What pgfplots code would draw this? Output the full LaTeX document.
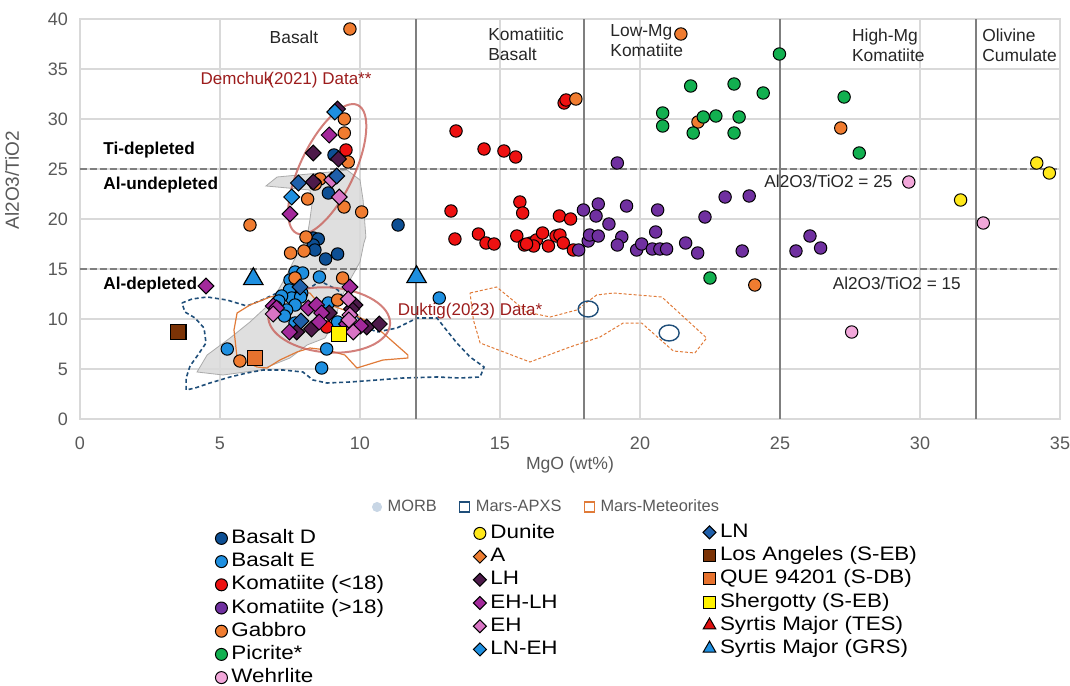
\documentclass[border=0pt]{standalone}
\usepackage{fontspec}
\setmainfont{Liberation Sans}
\newfontfamily\legfont[FakeStretch=1.15]{Liberation Sans}
\usepackage{pgfplots}
\pgfplotsset{compat=1.18}
\usetikzlibrary{shapes.geometric}

\definecolor{basD}{HTML}{0D4F94}
\definecolor{basE}{HTML}{1E8FE0}
\definecolor{komL}{HTML}{EE1111}
\definecolor{komH}{HTML}{7030A0}
\definecolor{gab}{HTML}{F07C30}
\definecolor{pic}{HTML}{12B050}
\definecolor{weh}{HTML}{F2A7DA}
\definecolor{dun}{HTML}{FFE81A}
\definecolor{aCol}{HTML}{ED7D31}
\definecolor{LHc}{HTML}{4D1A4A}
\definecolor{EHLHc}{HTML}{A3299B}
\definecolor{EHc}{HTML}{D874C4}
\definecolor{LNEHc}{HTML}{1E8FE0}
\definecolor{LNc}{HTML}{1F5FAA}
\definecolor{LAc}{HTML}{7B3306}
\definecolor{QUEc}{HTML}{E6722E}
\definecolor{SHEc}{HTML}{FFF200}
\definecolor{TESc}{HTML}{E01010}
\definecolor{GRSc}{HTML}{1E8FE0}
\definecolor{morbF}{HTML}{D9D9D9}
\definecolor{morbE}{HTML}{ABABAB}
\definecolor{morbL}{HTML}{C8D6E5}
\definecolor{apxs}{HTML}{1F4E79}
\definecolor{met}{HTML}{E07B39}
\definecolor{ellR}{HTML}{C8605A}
\definecolor{txtR}{HTML}{9C1C1C}
\definecolor{vline}{HTML}{7F7F7F}
\definecolor{gridc}{HTML}{D9D9D9}
\definecolor{tickc}{HTML}{595959}
\definecolor{annc}{HTML}{262626}

\pgfplotsset{
 circ/.style={only marks, forget plot, mark=*, mark size=3.1pt, mark options={draw=black, fill=#1, line width=0.5pt}},
 diam/.style={only marks, forget plot, mark=square*, mark size=2.8pt, mark options={draw=black, fill=#1, line width=0.5pt, rotate=45}},
 sq/.style={only marks, forget plot, mark=square*, mark size=3.9pt, mark options={draw=black, fill=#1, line width=0.6pt}},
 tri/.style={only marks, forget plot, mark=triangle*, mark size=5.6pt, mark options={draw=black, fill=#1, line width=0.6pt}},
 lcirc/.style={only marks, mark=*, mark size=3pt, mark options={draw=black, fill=#1, line width=0.5pt}},
 ldiam/.style={only marks, mark=square*, mark size=2.3pt, mark options={draw=black, fill=#1, line width=0.5pt, rotate=45}},
 lsq/.style={only marks, mark=square*, mark size=3pt, mark options={draw=black, fill=#1, line width=0.5pt}},
 ltri/.style={only marks, mark=triangle*, mark size=3.6pt, mark options={draw=black, fill=#1, line width=0.5pt}},
 colleg/.style={hide axis, scale only axis, width=490pt, height=200pt, at={(0,0)}, anchor=south west,
   xmin=0, xmax=1, ymin=0, ymax=1, legend cell align=left,
   legend image code/.code={\draw[##1] plot coordinates {(0pt,0pt)};},
   legend style={at={#1}, anchor=north west, draw=none, fill=none, inner sep=0pt, row sep=1.6pt,
     font=\legfont\fontsize{9.75}{11}\selectfont,
     nodes={inner sep=0.5pt, text height=7pt, text depth=2pt},
     /tikz/every odd column/.append style={column sep=1.5pt}}},
}

\begin{document}
\begin{tikzpicture}
\path[use as bounding box] (-40pt,-133pt) rectangle (495pt,209.5pt);

\begin{axis}[
 scale only axis, width=490pt, height=200pt, at={(0,0)}, anchor=south west,
 xmin=0, xmax=35, ymin=0, ymax=40,
 xtick={0,5,...,35}, ytick={0,5,...,40},
 grid=major, major grid style={draw=gridc, line width=0.6pt},
 axis line style={draw=gridc, line width=0.7pt},
 major tick length=0pt, tick style={draw=none},
 ticklabel style={font=\fontsize{9}{10}\selectfont, text=tickc},
 /pgf/number format/assume math mode=true,
 xticklabel style={yshift=-5.5pt},
 yticklabel style={xshift=-2.5pt},
 xlabel={MgO (wt\%)}, ylabel={Al2O3/TiO2},
 xlabel style={font=\fontsize{8.8}{10}\selectfont, text=tickc, at={(axis description cs:0.5,-0.115)}, anchor=center},
 ylabel style={font=\fontsize{9.5}{10}\selectfont, text=tickc, at={(axis description cs:-0.0694,0.5975)}, anchor=center},
 legend columns=-1,
 legend image code/.code={\draw[#1] plot coordinates {(0pt,0pt)};},
 legend style={at={(0.298,-0.22)}, anchor=west, draw=none, fill=none, inner sep=0pt,
   font=\fontsize{8.2}{10}\selectfont, text=tickc,
   nodes={inner sep=0.5pt},
   /tikz/every even column/.append style={column sep=11pt},
   /tikz/every odd column/.append style={column sep=2.5pt}},
]
\addlegendimage{only marks, mark=*, mark size=2.3pt, color=morbL}
\addlegendentry{MORB}
\addlegendimage{only marks, mark=square*, mark size=2.5pt, mark options={draw=apxs, fill=white, line width=0.6pt}}
\addlegendentry{Mars-APXS}
\addlegendimage{only marks, mark=square*, mark size=2.5pt, mark options={draw=met, fill=white, line width=0.6pt}}
\addlegendentry{Mars-Meteorites}

% MORB field
\addplot[forget plot, fill=morbF, fill opacity=0.85, draw=morbE, line width=0.4pt] coordinates {
(6.64,23.3) (7.04,24.2) (8.93,24.7) (9.54,24.9) (10.0,23.9) (10.11,21.9) (10.21,18.2) (10.14,17.6)
(10.0,15.7) (9.64,13.9) (9.29,11.9) (9.11,9.9) (8.75,8.1) (8.11,7.4) (7.5,6.1) (6.43,4.9) (5.11,4.4)
(4.18,4.7) (4.54,6.4) (5.36,8.1) (6.07,9.7) (6.61,11.1) (7.04,12.7) (7.39,14.4) (7.61,15.7)
(8.11,18.2) (8.21,19.9) (8.29,21.6) (8.21,22.9)} -- cycle;

% Mars-APXS field
\addplot[forget plot, draw=apxs, line width=0.8pt, dash pattern=on 2pt off 1.4pt] coordinates {
(3.64,11.6) (4.0,12.0) (4.54,12.2) (5.25,11.9) (5.96,11.3) (6.5,11.9) (7.04,12.6) (7.68,12.9)
(8.21,13.1) (8.57,13.8) (9.21,12.9) (9.71,10.9) (10.18,9.2) (10.61,8.7) (11.32,9.1) (12.04,10.1)
(12.75,10.1) (13.0,9.2) (13.46,7.6) (13.93,6.2) (14.43,5.2) (14.29,4.2) (13.57,4.1) (12.75,4.2)
(11.54,4.1) (10.61,3.9) (9.64,3.7) (8.82,3.6) (8.32,3.9) (7.96,4.7) (7.25,4.9) (6.54,4.9)
(5.96,4.6) (5.36,4.2) (4.64,3.6) (4.11,3.1) (3.79,2.9) (3.79,4.1) (3.93,5.3) (4.21,6.4)
(4.5,7.6) (4.43,9.1) (4.11,10.1) (3.75,10.7)} -- cycle;

% Mars-Meteorites fields
\addplot[forget plot, draw=met, line width=0.6pt] coordinates {
(5.61,10.6) (6.07,11.4) (6.79,12.2) (7.75,12.7) (8.21,12.6) (8.36,12.1) (8.93,11.4) (9.64,10.7)
(10.36,9.6) (10.82,8.6) (11.71,6.4) (11.71,6.1) (10.82,5.9) (9.89,5.1) (9.46,6.4) (8.82,6.9)
(8.21,7.1) (7.75,6.7) (7.14,5.9) (6.68,5.1) (6.32,5.2) (5.61,6.1) (5.5,8.9)} -- cycle;
\addplot[forget plot, draw=met, line width=0.5pt, dash pattern=on 1.5pt off 1pt] coordinates {
(13.93,12.6) (14.88,13.2) (15.36,12.1) (15.95,10.7) (16.79,10.2) (17.74,10.9) (18.45,12.4)
(19.05,12.6) (20.78,12.2) (22.38,8.1) (21.96,6.6) (21.19,6.8) (20.54,8.4) (20.06,9.6) (19.4,9.6)
(18.57,8.2) (17.5,7.2) (16.07,5.7) (14.29,7.6) (14.05,9.9)} -- cycle;

% boundaries
\addplot[forget plot, color=vline, line width=1pt] coordinates {(12,0) (12,40)};
\addplot[forget plot, color=vline, line width=1pt] coordinates {(18,0) (18,40)};
\addplot[forget plot, color=vline, line width=1pt] coordinates {(25,0) (25,40)};
\addplot[forget plot, color=vline, line width=1pt] coordinates {(32,0) (32,40)};
\addplot[forget plot, color=vline, line width=1pt, dash pattern=on 3.5pt off 1.5pt] coordinates {(0,25) (35,25)};
\addplot[forget plot, color=vline, line width=1pt, dash pattern=on 3.5pt off 1.5pt] coordinates {(0,15) (35,15)};

% ellipses
\node[draw=ellR, draw opacity=0.8, line width=1pt, ellipse, minimum width=71pt, minimum height=27pt, inner sep=0pt, rotate=64.5] at (axis cs:8.83,24.98) {};
\node[draw=ellR, draw opacity=0.8, line width=1pt, ellipse, minimum width=61pt, minimum height=32.5pt, inner sep=0pt, rotate=-4] at (axis cs:8.9,9.9) {};

% Mars-APXS points
\addplot[only marks, forget plot, mark=o, mark size=4pt, mark options={draw=apxs, line width=0.7pt, xscale=1.25}] coordinates {(18.15,11.0) (21.04,8.6)};

% Basalt D
\addplot[circ=basD] coordinates {(9.07,26.4) (8.87,22.6) (11.36,19.4) (8.33,18.1) (8.51,18.0) (8.33,17.4) (8.39,16.9) (9.2,16.5) (8.77,16.0)};
% Basalt E
\addplot[circ=basE] coordinates {(7.68,14.7) (7.95,14.6) (8.55,14.2) (7.5,13.9) (7.48,12.9) (7.92,12.6) (7.56,12.1) (7.2,12.3) (7.88,12.2) (7.68,11.4) (7.38,10.9) (8.87,11.6) (7.68,9.6) (9.2,9.7) (8.81,7.0) (8.63,5.1) (5.26,7.0) (12.83,12.1) (7.1,11.8) (7.3,10.3) (7.0,11.2)};
% Komatiite <18
\addplot[circ=komL] coordinates {(9.5,26.9) (8.81,9.2) (17.29,31.6) (17.36,31.9) (13.43,28.8) (14.43,27.0) (15.14,26.8) (15.56,26.2) (15.71,21.7) (15.81,20.6) (13.25,20.8) (17.12,20.3) (17.52,20.0) (13.39,18.0) (14.23,18.5) (14.5,17.6) (14.79,17.5) (15.6,18.3) (15.87,17.4) (16.1,17.6) (16.3,17.9) (16.52,18.6) (16.73,17.3) (17.0,18.3) (17.14,18.4) (17.26,17.6) (17.62,16.9) (16.2,17.3) (15.95,17.5)};
% Komatiite >18
\addplot[circ=komH] coordinates {(19.19,25.6) (17.81,16.9) (17.98,20.9) (18.51,21.5) (18.43,20.3) (18.89,19.5) (18.15,17.8) (18.2,18.4) (18.51,18.3) (19.35,18.2) (19.19,17.4) (19.52,21.3) (19.88,16.9) (20.06,17.5) (20.44,17.0) (20.71,17.0) (20.95,17.0) (20.56,18.7) (20.63,20.9) (21.63,17.6) (22.06,16.6) (22.32,20.2) (23.04,22.2) (23.9,22.3) (23.65,16.8) (25.57,16.8) (26.07,18.3) (26.45,17.1)};
% Gabbro
\addplot[circ=gab] coordinates {(9.64,39.0) (21.46,38.5) (17.71,32.0) (22.07,29.7) (27.17,29.1) (24.1,13.4) (9.44,30.0) (9.44,28.6) (9.58,25.7) (8.57,24.0) (8.4,23.5) (8.13,22.0) (9.43,21.2) (10.06,20.7) (6.07,19.4) (8.07,18.2) (8.0,16.8) (7.52,16.6) (7.68,14.1) (9.38,14.1) (9.2,11.9) (5.71,5.8)};
% Picrite
\addplot[circ=pic] coordinates {(24.98,36.5) (21.81,33.3) (23.36,33.5) (24.4,32.6) (27.29,32.2) (20.81,30.6) (20.81,29.3) (22.26,30.2) (22.71,30.3) (23.54,30.2) (21.9,28.6) (23.36,28.6) (27.83,26.6) (22.5,14.1)};
% Wehrlite
\addplot[circ=weh] coordinates {(29.6,23.7) (32.26,19.6) (27.56,8.7)};
% Dunite
\addplot[circ=dun] coordinates {(34.17,25.6) (34.62,24.6) (31.45,21.9)};
% LH
\addplot[diam=LHc] coordinates {(9.2,31.0) (8.33,26.6) (9.23,26.0) (8.33,23.7) (9.82,11.4) (8.9,10.6) (7.74,8.7) (8.27,9.0) (10.24,9.2) (10.69,9.5) (9.7,11.0)};
% EH-LH
\addplot[diam=EHLHc] coordinates {(8.9,28.4) (7.5,20.5) (4.5,13.3) (9.64,13.2) (6.9,11.3) (8.15,11.1) (8.45,11.4) (8.63,10.6) (9.52,9.5) (10.02,9.3) (7.48,8.7) (8.54,9.7) (7.02,11.1)};
% EH
\addplot[diam=EHc] coordinates {(8.99,23.9) (9.26,22.2) (9.58,12.0) (6.9,10.5) (9.64,10.4) (9.76,8.7) (9.6,9.9)};
% LN-EH
\addplot[diam=LNEHc] coordinates {(9.1,30.7) (7.56,22.2)};
% LN
\addplot[diam=LNc] coordinates {(7.8,23.6) (9.17,24.3) (7.86,13.2) (7.89,9.8)};
% Meteorites
\addplot[sq=LAc] coordinates {(3.51,8.7)};
\addplot[sq=QUEc] coordinates {(6.25,6.1)};
\addplot[sq=SHEc] coordinates {(9.25,8.5)};
% Syrtis Major (GRS)
\addplot[tri=GRSc] coordinates {(6.19,14.0) (12.02,14.2)};

% annotations
\node[font=\fontsize{8.7}{10}\selectfont, text=annc] at (axis cs:7.64,38.2) {Basalt};
\node[anchor=west, align=left, inner sep=0pt, font=\fontsize{8.7}{10}\selectfont, text=annc] at (axis cs:14.57,37.5) {Komatiitic\\Basalt};
\node[anchor=west, align=left, inner sep=0pt, font=\fontsize{8.7}{10}\selectfont, text=annc] at (axis cs:18.93,37.85) {Low-Mg\\Komatiite};
\node[anchor=west, align=left, inner sep=0pt, font=\fontsize{8.7}{10}\selectfont, text=annc] at (axis cs:27.56,37.4) {High-Mg\\Komatiite};
\node[anchor=west, align=left, inner sep=0pt, font=\fontsize{8.7}{10}\selectfont, text=annc] at (axis cs:32.21,37.4) {Olivine\\Cumulate};
\node[font=\fontsize{8.5}{10}\selectfont, text=txtR] at (axis cs:7.36,33.9) {Demchuk\kern-2pt(2021) Data**};
\node[font=\fontsize{8.5}{10}\selectfont, text=txtR] at (axis cs:13.93,10.8) {Duktig(2023) Data*};
\node[anchor=west, inner sep=0pt, font=\bfseries\fontsize{8.6}{10}\selectfont] at (axis cs:0.82,26.9) {Ti-depleted};
\node[anchor=west, inner sep=0pt, font=\bfseries\fontsize{8.6}{10}\selectfont] at (axis cs:0.82,23.4) {Al-undepleted};
\node[anchor=west, inner sep=0pt, font=\bfseries\fontsize{8.6}{10}\selectfont] at (axis cs:0.82,13.4) {Al-depleted};
\node[font=\fontsize{8.6}{10}\selectfont, text=annc] at (axis cs:26.73,23.73) {Al2O3/TiO2 = 25};
\node[font=\fontsize{8.6}{10}\selectfont, text=annc] at (axis cs:29.17,13.57) {Al2O3/TiO2 = 15};
\end{axis}

% legend column 1
\begin{axis}[colleg={(0.1378,-0.2725)}]
\addlegendimage{lcirc=basD}\addlegendentry{Basalt D}
\addlegendimage{lcirc=basE}\addlegendentry{Basalt E}
\addlegendimage{lcirc=komL}\addlegendentry{Komatiite (<18)}
\addlegendimage{lcirc=komH}\addlegendentry{Komatiite (>18)}
\addlegendimage{lcirc=gab}\addlegendentry{Gabbro}
\addlegendimage{lcirc=pic}\addlegendentry{Picrite*}
\addlegendimage{lcirc=weh}\addlegendentry{Wehrlite}
\end{axis}

% legend column 2
\begin{axis}[colleg={(0.401,-0.26)}]
\addlegendimage{lcirc=dun}\addlegendentry{Dunite}
\addlegendimage{ldiam=aCol}\addlegendentry{A}
\addlegendimage{ldiam=LHc}\addlegendentry{LH}
\addlegendimage{ldiam=EHLHc}\addlegendentry{EH-LH}
\addlegendimage{ldiam=EHc}\addlegendentry{EH}
\addlegendimage{ldiam=LNEHc}\addlegendentry{LN-EH}
\end{axis}

% legend column 3
\begin{axis}[colleg={(0.6353,-0.2575)}]
\addlegendimage{ldiam=LNc}\addlegendentry{LN}
\addlegendimage{lsq=LAc}\addlegendentry{Los Angeles (S-EB)}
\addlegendimage{lsq=QUEc}\addlegendentry{QUE 94201 (S-DB)}
\addlegendimage{lsq=SHEc}\addlegendentry{Shergotty (S-EB)}
\addlegendimage{ltri=TESc}\addlegendentry{Syrtis Major (TES)}
\addlegendimage{ltri=GRSc}\addlegendentry{Syrtis Major (GRS)}
\end{axis}
\end{tikzpicture}
\end{document}
